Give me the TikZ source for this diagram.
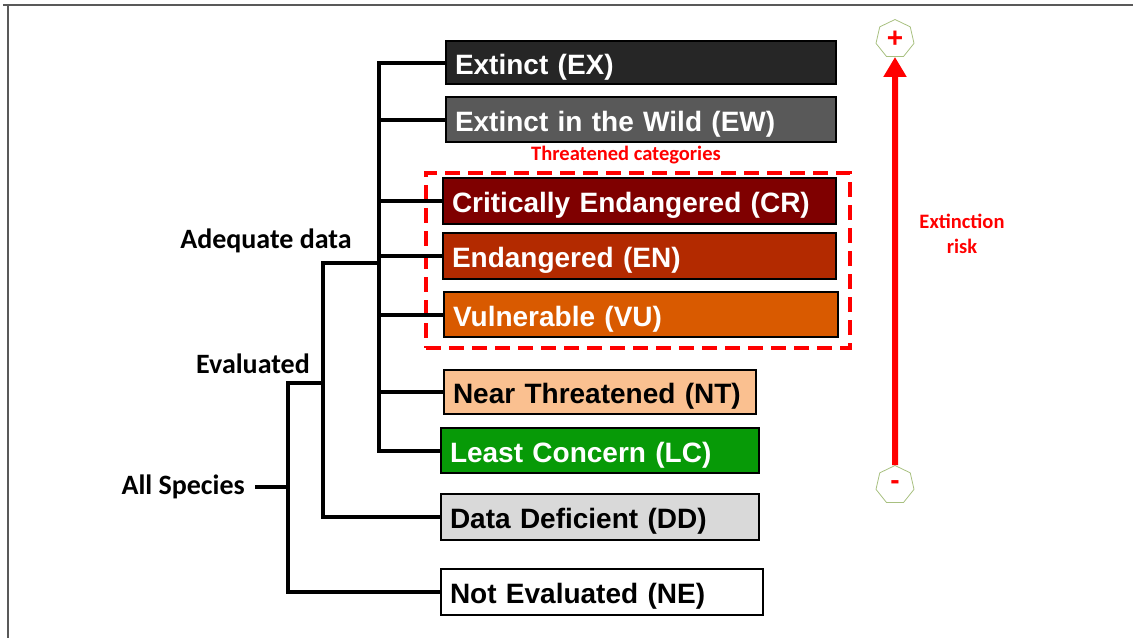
\documentclass[tikz,border=0pt]{standalone}
\usepackage{fontspec}
\setmainfont{Liberation Sans}
\newfontfamily\calib{Carlito}
\usetikzlibrary{shapes.geometric,arrows.meta}
\definecolor{cEX}{HTML}{262626}
\definecolor{cEW}{HTML}{595959}
\definecolor{cCR}{HTML}{7F0000}
\definecolor{cEN}{HTML}{B32A00}
\definecolor{cVU}{HTML}{D95A00}
\definecolor{cNT}{HTML}{FAC090}
\definecolor{cLC}{HTML}{079A07}
\definecolor{cDD}{HTML}{D9D9D9}
\definecolor{cNE}{HTML}{FFFFFF}
\definecolor{cRed}{HTML}{FF0000}
\definecolor{cHept}{HTML}{A8C080}
\definecolor{cFrame}{HTML}{595959}
\begin{document}
\begin{tikzpicture}[x=1pt,y=-1pt,
  box/.style={draw=black, line width=2pt, inner xsep=9pt, inner ysep=0pt,
    text height=23pt, text depth=0pt,
    align=left, anchor=west, font=\fontsize{28}{32}\selectfont\bfseries},
  tree/.style={draw=black, line width=4pt, line join=miter},
  lbl/.style={font=\calib\fontsize{28}{32}\selectfont\bfseries, inner sep=0pt},
  redlbl/.style={font=\calib\fontsize{20.5}{25}\selectfont\bfseries, text=cRed, inner sep=0pt, align=center},
  hept/.style={regular polygon, regular polygon sides=7, draw=cHept, line width=0.8pt,
    minimum size=39pt, inner sep=0pt, text=cRed, font=\fontsize{28}{28}\selectfont\bfseries}
]
\useasboundingbox (0,0) rectangle (1133,638);
% frame
\draw[cFrame, line width=1.5pt] (3,5) -- (1133,5);
\draw[cFrame, line width=1.5pt] (8,5) -- (8,638);

% category boxes
\node[box, fill=cEX, text=white, text width=372pt, minimum height=43pt] (ex) at (445,62.5) {Extinct (EX)};
\node[box, fill=cEW, text=white, text width=372pt, minimum height=45pt] (ew) at (445,119.5) {Extinct in the Wild (EW)};
\node[box, fill=cCR, text=white, text width=375pt, minimum height=46pt] (cr) at (442,201) {Critically Endangered (CR)};
\node[box, fill=cEN, text=white, text width=375pt, minimum height=46pt] (en) at (442,256) {Endangered (EN)};
\node[box, fill=cVU, text=white, text width=376pt, minimum height=45pt] (vu) at (443,314.5) {Vulnerable (VU)};
\node[box, fill=cNT, text=black, text width=294pt, minimum height=44pt] (nt) at (443,392) {Near Threatened (NT)};
\node[box, fill=cLC, text=white, text width=300pt, minimum height=45pt] (lc) at (440,450.5) {Least Concern (LC)};
\node[box, fill=cDD, text=black, text width=300pt, minimum height=46pt] (dd) at (440,517) {Data Deficient (DD)};
\node[box, fill=cNE, text=black, text width=304pt, minimum height=46pt] (ne) at (440,592) {Not Evaluated (NE)};

% threatened group
\node[draw=cRed, line width=4pt, dash pattern=on 15pt off 8pt, minimum width=424pt, minimum height=175pt, inner sep=0pt] (thr) at (638,260.5) {};
\node[redlbl] (thrlbl) at (626,155) {Threatened categories};

% labels
\node[lbl] (adq) at (266,241) {Adequate data};
\node[lbl] (evl) at (253,364) {Evaluated};
\node[lbl, anchor=east] (all) at (245,487) {All Species};

% junction coordinates
\coordinate (xa) at (379,263);
\coordinate (xe) at (323,383);
\coordinate (xs) at (288,487);

% tree connectors
\draw[tree] (ex.west) -| (xa |- lc.west) -- (lc.west);
\draw[tree] (xa |- ew.west) -- (ew.west);
\draw[tree] (xa |- cr.west) -- (cr.west);
\draw[tree] (xa |- en.west) -- (en.west);
\draw[tree] (xa |- vu.west) -- (vu.west);
\draw[tree] (xa |- nt.west) -- (nt.west);
\draw[tree] (xa) -- (xe |- xa) -- (xe |- dd.west) -- (dd.west);
\draw[tree] (xe) -- (xs |- xe) -- (xs |- ne.west) -- (ne.west);
\draw[tree] ([xshift=10pt]all.east) -- (xs);

% extinction risk arrow
\node[hept] (plus) at (895,39) {+};
\node[hept] (minus) at (895,485) {\raisebox{-2pt}{-}};
\draw[cRed, line width=6pt, -{Triangle[length=20pt, width=22pt]}] (minus.north) -- (plus.south);
\node[redlbl] (risk) at (962,234) {Extinction\\risk};
\end{tikzpicture}
\end{document}
